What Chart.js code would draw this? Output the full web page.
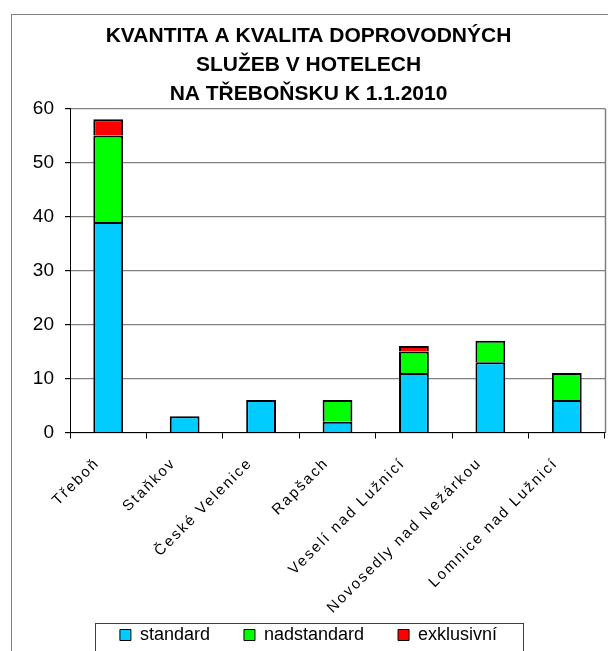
<!DOCTYPE html>
<html>
<head>
<meta charset="utf-8">
<script src="https://cdn.jsdelivr.net/npm/chart.js@4/dist/chart.umd.min.js"></script>
<style>
  html, body { margin: 0; padding: 0; width: 608px; height: 651px; overflow: hidden; background: #fff; }
  #ramec { position: absolute; left: 11px; top: 14px; width: 620px; height: 680px; border: 1px solid #808080; }
  #obal { position: absolute; left: 0; top: 0; width: 596px; height: 639px; }
</style>
</head>
<body>
<div id="ramec"><div id="obal"><canvas id="graf"></canvas></div></div>
<script>
// ===== DATA =====
const obce = ["Třeboň", "Staňkov", "České Velenice", "Rapšach", "Veselí nad Lužnicí", "Novosedly nad Nežárkou", "Lomnice nad Lužnicí"];
const standard = [39, 3, 6, 2, 11, 13, 6];
const nadstandard = [16, null, null, 4, 4, 4, 5];
const exklusivni = [3, null, null, null, 1, null, null];
const nadpis = ["KVANTITA A KVALITA DOPROVODNÝCH", "SLUŽEB V HOTELECH", "NA TŘEBOŇSKU K 1.1.2010"];
const osaY = { min: 0, max: 60, krok: 10 };

const pismo = "'Liberation Sans', Arial, sans-serif";

// ===== PROLOZENE POPISKY OSY X + OKRAJE =====
const okraje = {
  id: "okraje",
  beforeDraw(chart) {
    const sx = chart.scales.x;
    if (sx && !sx._prolozeno) {
      const puvodni = sx.drawLabels.bind(sx);
      sx._computeLabelArea = () => undefined; // popisky nesmi byt orezane
      sx.drawLabels = (area) => {
        chart.ctx.save();
        chart.ctx.letterSpacing = "2px";
        puvodni(area);
        chart.ctx.restore();
      };
      sx._prolozeno = true;
    }
  },
  afterDraw(chart) {
    const ctx = chart.ctx;
    const a = chart.chartArea;
    ctx.save();
    ctx.strokeStyle = "#808080";
    ctx.lineWidth = 1.5;
    ctx.beginPath();
    ctx.moveTo(a.right + 0.5, a.top);
    ctx.lineTo(a.right + 0.5, a.bottom);
    ctx.stroke();

    // ramecek legendy
    const lg = chart.legend;
    ctx.strokeStyle = "#404040";
    ctx.lineWidth = 1;
    ctx.strokeRect(83.5, lg.top + 31.5, 428, 60);
    ctx.restore();
  }
};

new Chart(document.getElementById("graf"), {
  type: "bar",
  data: {
    labels: obce,
    datasets: [
      { label: "standard", data: standard, backgroundColor: "#00CCFF" },
      { label: "nadstandard", data: nadstandard, backgroundColor: "#00FF00" },
      { label: "exklusivní", data: exklusivni, backgroundColor: "#FF0000" }
    ]
  },
  options: {
    responsive: true,
    maintainAspectRatio: false,
    animation: false,
    layout: { padding: { right: 3 } },
    datasets: {
      bar: {
        borderColor: "#000",
        borderWidth: 2,
        barPercentage: 0.39,
        categoryPercentage: 1
      }
    },
    plugins: {
      title: {
        display: true,
        text: nadpis,
        color: "#000",
        font: { family: pismo, size: 21, weight: "bold", lineHeight: "29px" },
        padding: { top: 6.5, bottom: 0 }
      },
      legend: {
        position: "bottom",
        labels: {
          color: "#000",
          font: { family: pismo, size: 18 },
          boxWidth: 11,
          boxHeight: 11,
          padding: 34,
          generateLabels(chart) {
            const items = Chart.defaults.plugins.legend.labels.generateLabels(chart);
            items.forEach(i => { i.lineWidth = 1; });
            return items;
          }
        }
      },
      tooltip: { enabled: false }
    },
    scales: {
      x: {
        stacked: true,
        grid: { offset: true, drawOnChartArea: false, tickLength: 6, color: "#000" },
        border: { color: "#000", width: 1 },
        ticks: {
          color: "#000",
          font: { family: pismo, size: 15 },
          autoSkip: false,
          minRotation: 45,
          maxRotation: 45,
          padding: 16,
          labelOffset: -11
        },
        afterFit(s) { s.height = 159.5; }
      },
      y: {
        stacked: true,
        min: osaY.min,
        max: osaY.max,
        grid: { color: "#808080", tickColor: "#000", tickLength: 5, lineWidth: 1.2 },
        border: { color: "#000", width: 1 },
        ticks: {
          stepSize: osaY.krok,
          color: "#000",
          font: { family: pismo, size: 19 },
          padding: 11
        },
        afterFit(s) { s.width = 58; }
      }
    }
  },
  plugins: [okraje]
});
</script>
</body>
</html>
